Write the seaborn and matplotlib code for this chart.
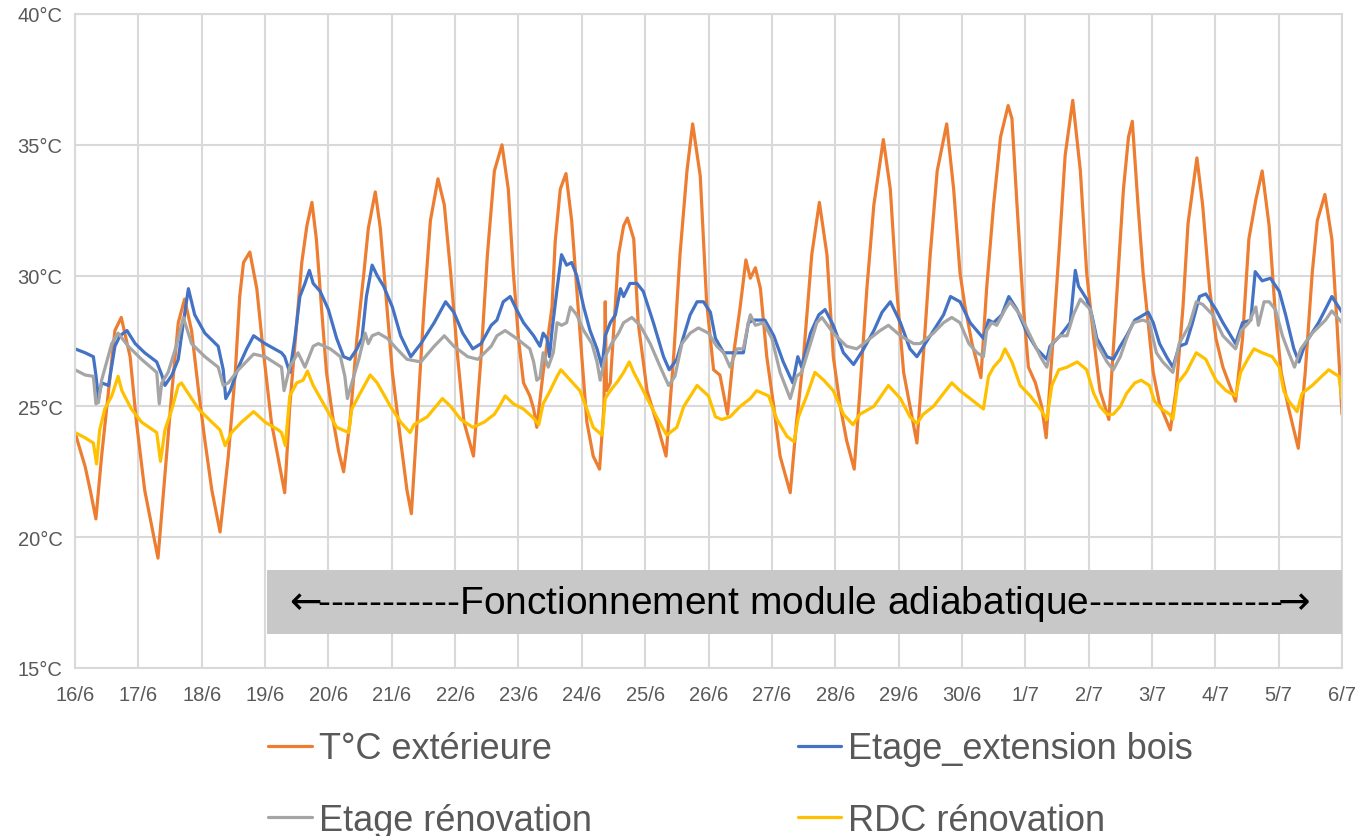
import matplotlib
matplotlib.use("Agg")
import matplotlib.pyplot as plt
from matplotlib.patches import Rectangle
import seaborn as sns
import pandas as pd

# --- Data: days counted from 16/6 00:00, temperatures in °C ---
date_labels = ["16/6", "17/6", "18/6", "19/6", "20/6", "21/6", "22/6", "23/6", "24/6",
               "25/6", "26/6", "27/6", "28/6", "29/6", "30/6", "1/7", "2/7", "3/7",
               "4/7", "5/7", "6/7"]
temp_ticks = [15, 20, 25, 30, 35, 40]

ext_days = [0.00, 0.16, 0.24, 0.33, 0.42, 0.53, 0.63, 0.73, 0.87, 0.97, 1.10, 1.31, 1.42, 1.53,
            1.63, 1.73, 1.84, 1.95, 2.05, 2.16, 2.29, 2.42, 2.53, 2.60, 2.66, 2.76, 2.87, 2.95,
            3.10, 3.31, 3.39, 3.50, 3.58, 3.66, 3.74, 3.81, 3.89, 3.97, 4.08, 4.16, 4.24, 4.34,
            4.45, 4.56, 4.63, 4.74, 4.82, 4.90, 5.01, 5.14, 5.24, 5.31, 5.40, 5.51, 5.61, 5.73,
            5.83, 5.93, 6.04, 6.14, 6.29, 6.41, 6.51, 6.62, 6.74, 6.84, 6.92, 7.00, 7.08, 7.18,
            7.24, 7.29, 7.39, 7.53, 7.58, 7.66, 7.75, 7.84, 7.92, 8.00, 8.08, 8.18, 8.28, 8.35,
            8.37, 8.39, 8.45, 8.58, 8.66, 8.72, 8.82, 8.89, 9.03, 9.18, 9.33, 9.45, 9.55, 9.66,
            9.75, 9.87, 9.97, 10.08, 10.18, 10.30, 10.39, 10.50, 10.59, 10.66, 10.74, 10.82,
            10.92, 11.03, 11.13, 11.29, 11.39, 11.50, 11.63, 11.75, 11.87, 11.97, 12.08, 12.18,
            12.30, 12.39, 12.50, 12.61, 12.76, 12.87, 12.97, 13.08, 13.29, 13.39, 13.50, 13.61,
            13.76, 13.87, 13.97, 14.05, 14.16, 14.30, 14.39, 14.50, 14.61, 14.73, 14.79, 14.87,
            14.97, 15.05, 15.16, 15.26, 15.33, 15.42, 15.53, 15.63, 15.75, 15.87, 15.97, 16.08,
            16.18, 16.32, 16.45, 16.55, 16.63, 16.69, 16.78, 16.86, 16.94, 17.02, 17.12, 17.29,
            17.38, 17.49, 17.57, 17.71, 17.80, 17.91, 18.01, 18.12, 18.32, 18.43, 18.53, 18.64,
            18.74, 18.85, 18.94, 19.04, 19.15, 19.31, 19.42, 19.53, 19.61, 19.73, 19.84, 19.92,
            20.00]
ext_temp = [24.0, 22.7, 21.8, 20.7, 23.1, 25.6, 27.9, 28.4, 26.9, 24.4, 21.8, 19.2, 22.4, 25.6,
            28.2, 29.1, 27.9, 25.6, 23.7, 21.8, 20.2, 23.1, 26.3, 29.2, 30.5, 30.9, 29.5, 27.6,
            24.4, 21.7, 25.0, 28.2, 30.5, 31.9, 32.8, 31.4, 28.8, 26.3, 24.4, 23.3, 22.5, 24.4,
            27.6, 30.1, 31.8, 33.2, 31.8, 29.5, 26.3, 23.7, 21.8, 20.9, 24.4, 28.8, 32.1, 33.7,
            32.7, 30.1, 26.9, 24.4, 23.1, 26.9, 30.8, 34.0, 35.0, 33.3, 30.1, 27.6, 25.9, 25.4,
            24.9, 24.2, 26.3, 28.8, 31.3, 33.3, 33.9, 32.1, 29.5, 26.9, 24.4, 23.1, 22.6, 25.0,
            29.0, 25.6, 25.9, 30.8, 31.9, 32.2, 31.4, 28.2, 25.6, 24.4, 23.1, 26.9, 30.8, 34.0,
            35.8, 33.8, 29.0, 26.4, 26.2, 24.7, 26.9, 28.8, 30.6, 29.9, 30.3, 29.5,
            26.9, 25.0, 23.1, 21.7, 24.4, 26.9, 30.8, 32.8, 30.8, 26.9, 25.0, 23.7,
            22.6, 25.6, 29.5, 32.7, 35.2, 33.3, 29.5, 26.3, 23.6, 26.9, 30.8, 34.0,
            35.8, 33.3, 30.1, 28.8, 27.4, 26.1, 29.5, 32.7, 35.3, 36.5, 36.0, 32.7,
            28.8, 26.5, 25.9, 25.0, 23.8, 26.9, 30.8, 34.6, 36.7, 34.0, 30.1, 27.6,
            25.6, 24.5, 29.5, 33.3, 35.3, 35.9, 32.7, 30.1, 28.2, 26.3, 25.1, 24.1,
            25.6, 28.8, 32.0, 34.5, 32.7, 29.5, 27.6, 26.5, 25.2, 27.6, 31.4, 32.9,
            34.0, 31.9, 28.8, 26.3, 25.0, 23.4, 26.3, 30.1, 32.1, 33.1, 31.4, 28.2,
            24.7]

bois_days = [0.00, 0.16, 0.29, 0.33, 0.37, 0.42, 0.53, 0.63, 0.71, 0.82, 0.95, 1.10, 1.29, 1.37,
             1.42, 1.53, 1.63, 1.71, 1.79, 1.89, 2.05, 2.26, 2.34, 2.38, 2.45, 2.58, 2.71, 2.82,
             3.00, 3.26, 3.31, 3.39, 3.47, 3.55, 3.63, 3.70, 3.76, 3.87, 4.00, 4.13, 4.24, 4.34,
             4.45, 4.53, 4.60, 4.69, 4.77, 4.87, 5.01, 5.14, 5.30, 5.46, 5.67, 5.85, 5.98, 6.12,
             6.28, 6.41, 6.57, 6.66, 6.76, 6.87, 6.97, 7.08, 7.24, 7.34, 7.39, 7.45, 7.49, 7.53,
             7.61, 7.68, 7.76, 7.84, 7.92, 8.03, 8.13, 8.24, 8.32, 8.37, 8.45, 8.53, 8.61, 8.66,
             8.76, 8.87, 8.97, 9.13, 9.29, 9.38, 9.50, 9.61, 9.71, 9.82, 9.92, 10.03, 10.11,
             10.24, 10.55, 10.63, 10.71, 10.89, 11.03, 11.18, 11.33, 11.41, 11.47, 11.61, 11.74,
             11.84, 11.97, 12.13, 12.29, 12.45, 12.61, 12.74, 12.87, 13.03, 13.18, 13.29, 13.50,
             13.71, 13.82, 13.97, 14.13, 14.34, 14.42, 14.50, 14.63, 14.74, 14.87, 15.03, 15.18,
             15.34, 15.39, 15.55, 15.71, 15.79, 15.84, 15.97, 16.05, 16.13, 16.29, 16.39, 16.50,
             16.60, 16.73, 16.94, 17.02, 17.12, 17.23, 17.33, 17.43, 17.54, 17.64, 17.75, 17.85,
             18.01, 18.12, 18.32, 18.43, 18.56, 18.63, 18.74, 18.87, 19.01, 19.11, 19.24, 19.32,
             19.42, 19.63, 19.84, 20.00]
bois_temp = [27.2, 27.05, 26.9, 26.2, 25.3, 25.9, 25.8, 27.3, 27.7, 27.9, 27.4, 27.05, 26.7, 26.2,
             25.8, 26.2, 26.8, 28.2, 29.5, 28.5, 27.8, 27.3, 26.4, 25.3, 25.6, 26.5, 27.2, 27.7,
             27.4, 27.05, 26.9, 26.3, 27.6, 29.2, 29.7, 30.2, 29.7, 29.4, 28.7, 27.6, 26.9, 26.8,
             27.2, 27.6, 29.2, 30.4, 30.0, 29.6, 28.8, 27.7, 26.9, 27.4, 28.2, 29.0, 28.6, 27.8,
             27.2, 27.4, 28.1, 28.3, 29.0, 29.2, 28.7, 28.2, 27.7, 27.3, 27.8, 27.6, 26.9, 27.9,
             29.5, 30.8, 30.4, 30.5, 30.0, 28.8, 27.9, 27.2, 26.5, 27.7, 28.2, 28.5, 29.5, 29.2,
             29.7, 29.7, 29.4, 28.2, 26.9, 26.4, 26.8, 27.7, 28.5, 29.0, 29.0, 28.6, 27.6,
             27.05, 27.05, 28.2, 28.3, 28.3, 27.7, 26.7, 25.9, 26.9, 26.5, 27.8, 28.5,
             28.7, 28.1, 27.05, 26.6, 27.2, 27.9, 28.6, 29.0, 28.2, 27.2, 26.9, 27.7,
             28.5, 29.2, 29.0, 28.2, 27.6, 28.3, 28.2, 28.5, 29.2, 28.7, 27.8, 27.2,
             26.8, 27.3, 27.7, 28.2, 30.2, 29.6, 29.1, 28.5, 27.6, 26.9, 26.8, 27.3,
             27.7, 28.3, 28.6, 28.2, 27.4, 26.9, 26.5, 27.3, 27.4, 28.2, 29.2, 29.3,
             28.7, 28.2, 27.4, 28.2, 28.3, 30.15, 29.8, 29.9, 29.4, 28.5, 27.2, 26.7,
             27.4, 28.2, 29.2, 28.6]

renov_days = [0.00, 0.16, 0.29, 0.33, 0.37, 0.42, 0.50, 0.58, 0.68, 0.84, 1.05, 1.29, 1.33, 1.37,
              1.47, 1.61, 1.71, 1.84, 2.05, 2.26, 2.34, 2.42, 2.58, 2.82, 3.00, 3.26, 3.30, 3.39,
              3.52, 3.63, 3.76, 3.84, 4.03, 4.19, 4.26, 4.30, 4.37, 4.48, 4.58, 4.63, 4.69, 4.79,
              4.93, 5.08, 5.24, 5.46, 5.67, 5.83, 5.98, 6.20, 6.36, 6.57, 6.66, 6.79, 6.97, 7.18,
              7.24, 7.29, 7.34, 7.39, 7.47, 7.55, 7.61, 7.68, 7.76, 7.82, 7.92, 8.03, 8.16, 8.24,
              8.29, 8.37, 8.47, 8.58, 8.66, 8.79, 8.92, 9.08, 9.24, 9.37, 9.47, 9.58, 9.71, 9.84,
              10.00, 10.13, 10.24, 10.34, 10.45, 10.55, 10.63, 10.66, 10.74, 10.87, 11.00, 11.13,
              11.29, 11.39, 11.47, 11.61, 11.71, 11.79, 11.97, 12.18, 12.34, 12.55, 12.71, 12.84,
              13.03, 13.24, 13.34, 13.55, 13.71, 13.84, 13.97, 14.11, 14.24, 14.34, 14.39, 14.47,
              14.55, 14.68, 14.76, 14.92, 15.08, 15.24, 15.34, 15.42, 15.55, 15.66, 15.76, 15.87,
              16.03, 16.13, 16.29, 16.39, 16.50, 16.60, 16.70, 16.86, 16.96, 17.07, 17.17, 17.33,
              17.43, 17.59, 17.70, 17.80, 17.96, 18.12, 18.32, 18.41, 18.53, 18.64, 18.68, 18.77,
              18.85, 18.95, 19.06, 19.16, 19.25, 19.35, 19.53, 19.74, 19.84, 20.00]
renov_temp = [26.4, 26.2, 26.15, 25.1, 25.15, 26.0, 26.7, 27.4, 27.8, 27.3, 26.8, 26.3, 25.1, 25.9,
              26.3, 27.4, 28.4, 27.4, 26.9, 26.5, 25.8, 25.9, 26.4, 27.0, 26.9, 26.5, 25.6, 26.5,
              27.05, 26.5, 27.3, 27.4, 27.2, 26.9, 26.15, 25.3, 25.9, 26.8, 27.8, 27.4, 27.7, 27.8,
              27.6, 27.2, 26.8, 26.7, 27.3, 27.7, 27.3, 26.9, 26.8, 27.3, 27.7, 27.9, 27.6, 27.2,
              26.7, 26.0, 26.1, 27.05, 26.5, 27.05, 28.2, 28.1, 28.2, 28.8, 28.5, 27.9, 27.4, 26.7,
              26.0, 26.9, 27.4, 27.8, 28.2, 28.4, 28.1, 27.4, 26.5, 25.8, 26.15, 27.4, 27.8, 28.0,
              27.8, 27.3, 27.05, 26.5, 27.2, 27.2, 28.2, 28.5, 28.1, 28.2, 27.6, 26.3,
              25.3, 26.15, 26.3, 27.4, 28.2, 28.4, 27.8, 27.3, 27.2, 27.6, 27.9, 28.1,
              27.7, 27.4, 27.4, 27.8, 28.2, 28.4, 28.2, 27.4, 27.05, 26.9, 27.9, 28.2,
              28.1, 28.7, 29.0, 28.5, 27.7, 26.9, 26.5, 27.4, 27.7, 27.7, 28.5, 29.1,
              28.7, 27.4, 26.7, 26.4, 26.9, 27.6, 28.2, 28.3, 28.2, 27.05, 26.7, 26.3,
              27.4, 28.1, 29.0, 28.9, 28.5, 27.7, 27.2, 27.9, 28.2, 28.8, 28.1, 29.0,
              29.0, 28.7, 27.7, 27.05, 26.5, 27.2, 27.8, 28.3, 28.65, 28.2]

rdc_days = [0.00, 0.16, 0.29, 0.34, 0.39, 0.47, 0.58, 0.68, 0.74, 0.89, 1.05, 1.29, 1.35, 1.42,
            1.53, 1.63, 1.68, 1.76, 1.95, 2.16, 2.29, 2.37, 2.47, 2.63, 2.82, 3.00, 3.21, 3.26,
            3.32, 3.39, 3.50, 3.60, 3.67, 3.76, 3.97, 4.13, 4.32, 4.37, 4.50, 4.66, 4.77, 4.98,
            5.14, 5.29, 5.35, 5.56, 5.80, 5.93, 6.09, 6.28, 6.46, 6.62, 6.70, 6.79, 6.92, 7.08,
            7.24, 7.32, 7.39, 7.50, 7.61, 7.67, 7.82, 7.97, 8.08, 8.18, 8.32, 8.37, 8.45, 8.58,
            8.66, 8.75, 8.82, 8.97, 9.18, 9.34, 9.50, 9.61, 9.82, 10.00, 10.11, 10.21, 10.34,
            10.50, 10.66, 10.76, 10.95, 11.08, 11.24, 11.35, 11.42, 11.55, 11.68, 11.82, 11.97,
            12.13, 12.28, 12.39, 12.61, 12.84, 13.03, 13.18, 13.29, 13.39, 13.55, 13.71, 13.84,
            13.97, 14.13, 14.34, 14.42, 14.50, 14.61, 14.68, 14.79, 14.92, 15.08, 15.24, 15.34,
            15.42, 15.53, 15.66, 15.82, 15.97, 16.08, 16.18, 16.29, 16.39, 16.50, 16.60, 16.73,
            16.83, 16.96, 17.04, 17.15, 17.28, 17.33, 17.41, 17.54, 17.70, 17.85, 18.01, 18.17,
            18.32, 18.40, 18.51, 18.61, 18.74, 18.90, 19.01, 19.08, 19.16, 19.29, 19.37, 19.53,
            19.68, 19.79, 19.95, 20.00]
rdc_temp = [24.0, 23.8, 23.6, 22.8, 24.1, 24.9, 25.4, 26.15, 25.6, 24.9, 24.4, 24.0, 22.9, 24.1,
            24.9, 25.8, 25.9, 25.6, 24.9, 24.4, 24.1, 23.5, 24.0, 24.4, 24.8, 24.4, 24.1, 24.0,
            23.5, 25.4, 25.9, 26.0, 26.35, 25.8, 24.9, 24.2, 24.0, 24.9, 25.5, 26.2, 25.9, 25.0,
            24.4, 24.0, 24.3, 24.6, 25.3, 25.0, 24.5, 24.2, 24.4, 24.7, 25.0, 25.4, 25.1, 24.9,
            24.55, 24.3, 25.1, 25.6, 26.15, 26.4, 26.0, 25.6, 24.9, 24.2, 23.9, 25.3, 25.6, 26.0,
            26.3, 26.7, 26.3, 25.6, 24.6, 23.9, 24.2, 25.0, 25.8, 25.4, 24.6, 24.5, 24.6,
            25.0, 25.3, 25.6, 25.4, 24.5, 23.85, 23.65, 24.6, 25.4, 26.3, 26.0, 25.6,
            24.7, 24.3, 24.7, 25.0, 25.8, 25.3, 24.6, 24.35, 24.7, 25.0, 25.5, 25.9,
            25.6, 25.3, 24.9, 26.15, 26.5, 26.8, 27.2, 26.7, 25.8, 25.4, 24.9, 24.5,
            25.8, 26.4, 26.5, 26.7, 26.4, 25.5, 25.0, 24.7, 24.7, 25.0, 25.5, 25.9,
            26.0, 25.8, 25.2, 24.9, 24.7, 24.5, 25.9, 26.3, 27.05, 26.8, 26.0, 25.6,
            25.4, 26.3, 26.8, 27.2, 27.05, 26.9, 26.5, 25.6, 25.2, 24.8, 25.5, 25.8,
            26.15, 26.4, 26.15, 25.3]

series_names = ["T°C extérieure", "Etage_extension bois", "Etage rénovation", "RDC rénovation"]
series_colors = ["#ED7D31", "#4472C4", "#A5A5A5", "#FFC000"]
band_label = (r"$\leftarrow\!\!$-----------Fonctionnement module adiabatique"
              r"---------------$\!\!\rightarrow$")

frames = []
for name, d, t in zip(series_names,
                      [ext_days, bois_days, renov_days, rdc_days],
                      [ext_temp, bois_temp, renov_temp, rdc_temp]):
    frames.append(pd.DataFrame({"jour": d, "temp": t, "serie": name}))
data = pd.concat(frames, ignore_index=True)

sns.set_style("white")
plt.rcParams["font.family"] = ["Liberation Sans", "DejaVu Sans"]

W, H = 1361, 837
fig = plt.figure(figsize=(W / 100, H / 100), dpi=100)
ax = fig.add_axes([75 / W, 1 - 669 / H, (1342 - 75) / W, (669 - 15) / H])

sns.lineplot(data=data, x="jour", y="temp", hue="serie", hue_order=series_names,
             palette=dict(zip(series_names, series_colors)), estimator=None, sort=False,
             linewidth=2.3, ax=ax, legend=False)

grid_col = "#d9d9d9"
ax.set_xlim(0, 20)
ax.set_ylim(15, 40)
ax.set_xticks(range(len(date_labels)))
ax.set_xticklabels(date_labels)
ax.set_yticks(temp_ticks)
ax.set_yticklabels([f"{v}°C" for v in temp_ticks])
ax.grid(True, color=grid_col, linewidth=1.5)
ax.set_axisbelow(True)
for sp in ax.spines.values():
    sp.set_color(grid_col)
    sp.set_linewidth(1.5)
ax.set_xlabel("")
ax.set_ylabel("")
ax.tick_params(axis="both", length=0, colors="#595959")
ax.tick_params(axis="x", pad=12, labelsize=14.5)
ax.tick_params(axis="y", pad=9, labelsize=14.5)

# Shaded band marking the period when the adiabatic module runs
x0 = (267 - 75) / (1342 - 75)
ax.add_patch(Rectangle((x0, 0.052), 1 - x0, 0.098, transform=ax.transAxes,
                       facecolor="#c8c8c8", edgecolor="none", zorder=3))
ax.text((796 - 75) / (1342 - 75), 0.100, band_label, transform=ax.transAxes,
        ha="center", va="center", fontsize=28, color="black", zorder=4)

handles = ax.get_lines()[:4]
order = [0, 2, 1, 3]
fig.legend([handles[i] for i in order], [series_names[i] for i in order],
           loc="upper left", bbox_to_anchor=(254 / W, 1 - 718 / H), ncol=2,
           frameon=False, fontsize=26, labelcolor="#595959", handlelength=1.2,
           handletextpad=0.2, columnspacing=5.7, labelspacing=1.0, borderaxespad=0)

fig.savefig("out.png", dpi=100)
